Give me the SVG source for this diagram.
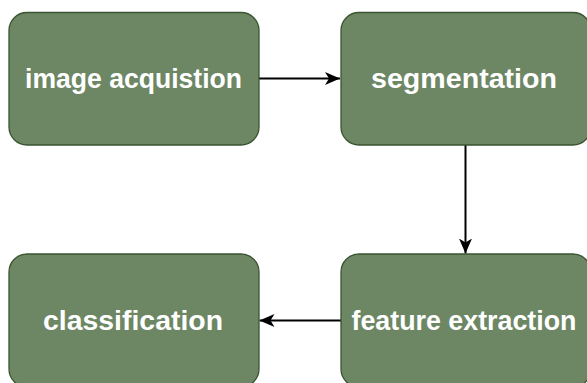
<svg xmlns="http://www.w3.org/2000/svg" width="587" height="383" viewBox="0 0 587 383">
<style>
.node rect{fill:#6d8764;stroke:#3a5431;stroke-width:1.3}
.node text{fill:#ffffff;font-family:"Liberation Sans",Arial,sans-serif;font-weight:bold;font-size:27px;text-anchor:middle}
.edge{stroke:#000;stroke-width:2;fill:none}
</style>
<defs>
<marker id="arr" viewBox="0 0 15 14" refX="15" refY="7" markerWidth="15" markerHeight="14" markerUnits="userSpaceOnUse" orient="auto">
<path d="M0,0.5 L15,7 L0,13.5 L4,7 Z" fill="#000"/>
</marker>
</defs>
<g id="connectors">
<path class="edge" d="M259,78.5 H340" marker-end="url(#arr)"/>
<path class="edge" d="M465.5,145 V253.5" marker-end="url(#arr)"/>
<path class="edge" d="M341,320.5 H259.5" marker-end="url(#arr)"/>
</g>
<g id="n1" class="node"><rect x="9" y="12.5" width="250" height="132.5" rx="18"/><text x="133.5" y="88" textLength="217" lengthAdjust="spacingAndGlyphs">image acquistion</text></g>
<g id="n2" class="node"><rect x="341" y="12.5" width="250" height="132.5" rx="18"/><text x="464" y="88" textLength="186" lengthAdjust="spacingAndGlyphs">segmentation</text></g>
<g id="n3" class="node"><rect x="341" y="254" width="250" height="133" rx="18"/><text x="464" y="330" textLength="225" lengthAdjust="spacingAndGlyphs">feature extraction</text></g>
<g id="n4" class="node"><rect x="9" y="254" width="250" height="133" rx="18"/><text x="133" y="330" textLength="180" lengthAdjust="spacingAndGlyphs">classification</text></g>
</svg>
